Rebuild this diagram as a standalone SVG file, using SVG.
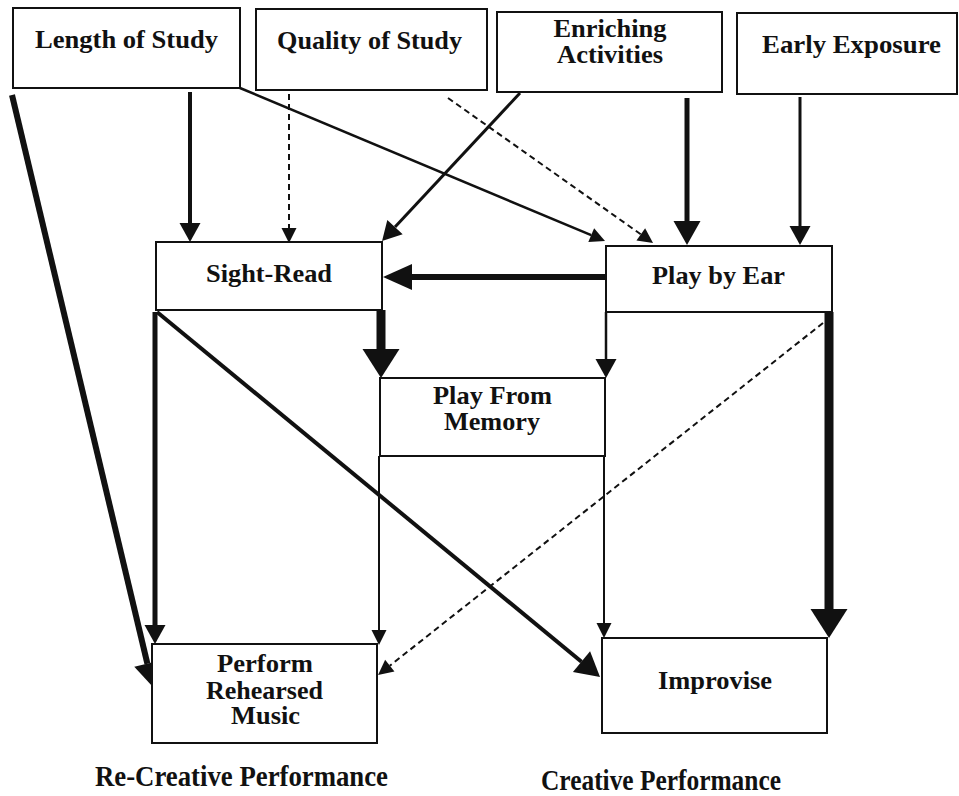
<svg xmlns="http://www.w3.org/2000/svg" width="959" height="796" viewBox="0 0 959 796">
<style>
.box{fill:#fff;stroke:#111;stroke-width:2}
.lbl{font-family:"Liberation Serif","Times New Roman",serif;font-weight:bold;font-size:25px;fill:#111;text-anchor:middle}
.cap{font-family:"Liberation Serif","Times New Roman",serif;font-weight:bold;font-size:30px;fill:#111;text-anchor:middle}
.c{stroke:#111;fill:none;stroke-linecap:butt}
.dash{stroke-dasharray:6 4}
</style>
<defs>
<marker id="hA" markerUnits="userSpaceOnUse" markerWidth="15" markerHeight="15" refX="0" refY="7.5" orient="auto" overflow="visible"><path d="M0,0 L15,7.5 L0,15 z" fill="#111"/></marker>
<marker id="hB" markerUnits="userSpaceOnUse" markerWidth="19" markerHeight="21" refX="0" refY="10.5" orient="auto" overflow="visible"><path d="M0,0 L19,10.5 L0,21 z" fill="#111"/></marker>
<marker id="hC" markerUnits="userSpaceOnUse" markerWidth="24" markerHeight="27" refX="0" refY="13.5" orient="auto" overflow="visible"><path d="M0,0 L24,13.5 L0,27 z" fill="#111"/></marker>
<marker id="hE" markerUnits="userSpaceOnUse" markerWidth="29" markerHeight="26" refX="0" refY="13" orient="auto" overflow="visible"><path d="M0,0 L29,13 L0,26 z" fill="#111"/></marker>
<marker id="hD" markerUnits="userSpaceOnUse" markerWidth="29" markerHeight="37" refX="0" refY="18.5" orient="auto" overflow="visible"><path d="M0,0 L29,18.5 L0,37 z" fill="#111"/></marker>
</defs>
<rect width="959" height="796" fill="#fff"/>

<g id="connectors">
<line class="c" x1="12" y1="95" x2="147.4" y2="663.7" stroke-width="6" marker-end="url(#hC)"/>
<line class="c" x1="190" y1="92" x2="190" y2="223" stroke-width="4" marker-end="url(#hB)"/>
<line class="c dash" x1="289" y1="94" x2="289" y2="228" stroke-width="2" marker-end="url(#hA)"/>
<line class="c" x1="240" y1="88" x2="591.2" y2="235.2" stroke-width="2.5" marker-end="url(#hA)"/>
<line class="c dash" x1="448" y1="98" x2="640.8" y2="234.3" stroke-width="2" marker-end="url(#hA)"/>
<line class="c" x1="520" y1="93" x2="395" y2="227.1" stroke-width="3" marker-end="url(#hB)"/>
<line class="c" x1="687" y1="98" x2="687" y2="221" stroke-width="5" marker-end="url(#hC)"/>
<line class="c" x1="800" y1="97" x2="800" y2="226" stroke-width="3" marker-end="url(#hB)"/>
<line class="c" x1="606" y1="277" x2="412" y2="277" stroke-width="6" marker-end="url(#hE)"/>
<line class="c" x1="381" y1="310" x2="381" y2="349" stroke-width="9" marker-end="url(#hD)"/>
<line class="c" x1="606" y1="312" x2="606" y2="359" stroke-width="2.5" marker-end="url(#hB)"/>
<line class="c" x1="379" y1="456" x2="379" y2="630" stroke-width="2" marker-end="url(#hA)"/>
<line class="c" x1="604" y1="456" x2="604" y2="623" stroke-width="2" marker-end="url(#hA)"/>
<line class="c" x1="155" y1="312" x2="155" y2="625" stroke-width="5" marker-end="url(#hB)"/>
<line class="c" x1="157" y1="312" x2="581.5" y2="661.7" stroke-width="4" marker-end="url(#hC)"/>
<line class="c" x1="829" y1="312" x2="829" y2="609" stroke-width="9" marker-end="url(#hD)"/>
<line class="c dash" x1="823" y1="323" x2="389.8" y2="665.7" stroke-width="2" marker-end="url(#hA)"/>
</g>

<g id="length-of-study"><rect class="box" x="13" y="8" width="227" height="80"/><text class="lbl" x="126.5" y="48" textLength="183" lengthAdjust="spacingAndGlyphs">Length of Study</text></g>
<g id="quality-of-study"><rect class="box" x="256" y="9" width="231" height="81"/><text class="lbl" x="369.5" y="49" textLength="185" lengthAdjust="spacingAndGlyphs">Quality of Study</text></g>
<g id="enriching-activities"><rect class="box" x="497" y="12" width="225" height="80"/><text class="lbl" x="610" y="37" textLength="113" lengthAdjust="spacingAndGlyphs">Enriching</text><text class="lbl" x="610" y="63" textLength="106" lengthAdjust="spacingAndGlyphs">Activities</text></g>
<g id="early-exposure"><rect class="box" x="737" y="13" width="220" height="81"/><text class="lbl" x="851.5" y="53" textLength="179" lengthAdjust="spacingAndGlyphs">Early Exposure</text></g>
<g id="sight-read"><rect class="box" x="156" y="242" width="226" height="68"/><text class="lbl" x="269" y="282" textLength="126" lengthAdjust="spacingAndGlyphs">Sight-Read</text></g>
<g id="play-by-ear"><rect class="box" x="606" y="246" width="226" height="66"/><text class="lbl" x="718.5" y="284" textLength="133" lengthAdjust="spacingAndGlyphs">Play by Ear</text></g>
<g id="play-from-memory"><rect class="box" x="380" y="378" width="225" height="78"/><text class="lbl" x="492.5" y="404" textLength="119" lengthAdjust="spacingAndGlyphs">Play From</text><text class="lbl" x="492" y="430" textLength="96" lengthAdjust="spacingAndGlyphs">Memory</text></g>
<g id="perform-rehearsed-music"><rect class="box" x="152" y="644" width="225" height="99"/><text class="lbl" x="265" y="672" textLength="96" lengthAdjust="spacingAndGlyphs">Perform</text><text class="lbl" x="264.5" y="699" textLength="117" lengthAdjust="spacingAndGlyphs">Rehearsed</text><text class="lbl" x="265.5" y="724" textLength="69" lengthAdjust="spacingAndGlyphs">Music</text></g>
<g id="improvise"><rect class="box" x="602" y="638" width="225" height="95"/><text class="lbl" x="715" y="689" textLength="114" lengthAdjust="spacingAndGlyphs">Improvise</text></g>

<g id="captions">
<text class="cap" x="241.5" y="786" textLength="293" lengthAdjust="spacingAndGlyphs">Re-Creative Performance</text>
<text class="cap" x="661" y="790" textLength="240" lengthAdjust="spacingAndGlyphs">Creative Performance</text>
</g>
</svg>
